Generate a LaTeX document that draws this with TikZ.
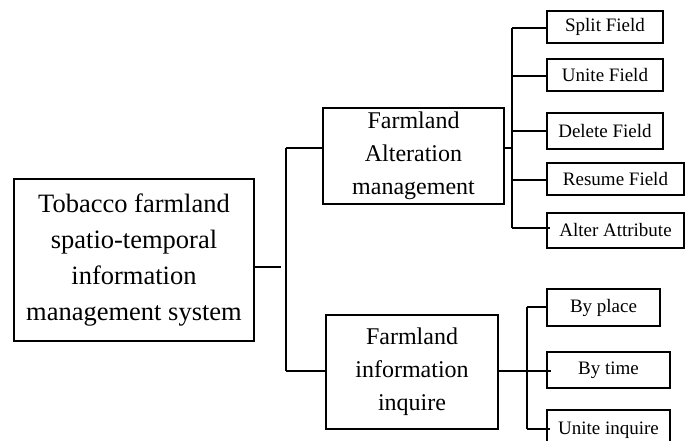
\documentclass[tikz,border=0pt]{standalone}
\usepackage{fontspec}
\setmainfont{Liberation Serif}
\begin{document}
\begin{tikzpicture}[x=1pt,y=-1pt,line width=1.5pt,
  box/.style={draw,rectangle,inner sep=0pt,align=center},
  bigbox/.style={box,font=\fontsize{26.5}{36}\selectfont},
  midbox/.style={box,font=\fontsize{24}{33}\selectfont},
  leaf/.style={box,font=\fontsize{19}{22}\selectfont},
  conn/.style={line cap=rect}]
\useasboundingbox (0,0) rectangle (689,441);
% main nodes
\node[bigbox,minimum width=240pt,minimum height=162pt] (main) at (134,260)
  {Tobacco farmland\\spatio-temporal\\information\\management system};
\node[midbox,minimum width=181pt,minimum height=96pt] (alt) at (413.5,156)
  {Farmland\\Alteration\\management};
\node[midbox,minimum width=172pt,minimum height=114pt] (info) at (412,372)
  {Farmland\\information\\inquire};
% leaves
\node[leaf,minimum width=116pt,minimum height=32pt] (split) at (605,27) {Split Field};
\node[leaf,minimum width=116pt,minimum height=32pt] (unitef) at (605,75) {Unite Field};
\node[leaf,minimum width=116pt,minimum height=36pt] (delete) at (605,131) {Delete Field};
\node[leaf,minimum width=137pt,minimum height=32pt] (resume) at (615.5,179) {Resume Field};
\node[leaf,minimum width=137pt,minimum height=35pt] (alter) at (615.5,230.5) {Alter Attribute};
\node[leaf,minimum width=113pt,minimum height=37pt] (byplace) at (603.5,307.5) {By place};
\node[leaf,minimum width=123pt,minimum height=36pt] (bytime) at (608.5,370) {By time};
\node[leaf,minimum width=123pt,minimum height=40pt] (uniteinq) at (608.5,430) {Unite inquire};
% junction coordinates
\coordinate (stubend) at (281,267);
\coordinate (t1) at (286,148);
\coordinate (t2) at (286,371);
\coordinate (b1top) at (512,28);
\coordinate (b1bot) at (512,228);
\coordinate (b2top) at (527,307);
\coordinate (b2bot) at (527,429);
% connectors
\draw (main.east |- stubend) -- (stubend);
\draw (t1) -- (t2);
\draw (t1) -- (alt.west |- t1);
\draw (t2) -- (info.west |- t2);
\draw (alt.east |- t1) -- (b1top |- t1);
\draw (b1top) -- (b1bot);
\draw (b1top) -- (split.west |- b1top);
\draw (b1top |- 0,76) -- (unitef.west |- 0,76);
\draw (b1top |- 0,131) -- (delete.west |- 0,131);
\draw (b1top |- 0,180) -- (resume.west |- 0,180);
\draw (b1bot) -- ([xshift=4pt]alter.west |- b1bot);
\draw (info.east |- t2) -- ([xshift=5pt]bytime.west |- t2);
\draw (b2top) -- (b2bot);
\draw (b2top) -- (byplace.west |- b2top);
\draw (b2bot) -- ([xshift=4pt]uniteinq.west |- b2bot);
\end{tikzpicture}
\end{document}
